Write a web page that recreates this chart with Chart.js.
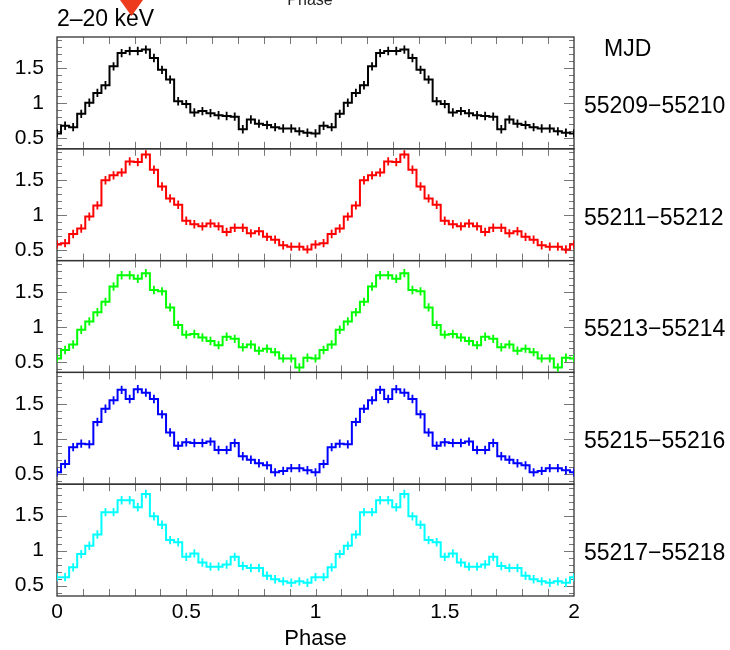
<!DOCTYPE html>
<html>
<head>
<meta charset="utf-8">
<style>
  html, body { margin: 0; padding: 0; background: #fff; }
  #wrap { width: 730px; height: 650px; }
</style>
<script src="https://cdn.jsdelivr.net/npm/chart.js@4.4.0/dist/chart.umd.min.js"></script>
</head>
<body>
<div id="wrap"><canvas id="profiles" width="730" height="650"></canvas></div>
<script>
// pulse profiles, 32 phase bins per cycle (bin centres at k/32), plotted twice
const energyBand = '2–20 keV';
const mjdRanges = ['55209−55210', '55211−55212', '55213−55214', '55215−55216', '55217−55218'];
const lineColors = ['#000000', '#ff0000', '#00ff00', '#0000ff', '#00ffff'];

const rate55209 = [0.57, 0.68, 0.66, 0.85, 1.01, 1.15, 1.26, 1.53, 1.72, 1.75, 1.75, 1.77, 1.65, 1.48, 1.34, 1.03,
                   0.99, 0.87, 0.89, 0.86, 0.83, 0.82, 0.81, 0.63, 0.77, 0.71, 0.69, 0.66, 0.64, 0.64, 0.60, 0.58];
const rate55211 = [0.58, 0.60, 0.73, 0.81, 0.98, 1.14, 1.50, 1.57, 1.61, 1.77, 1.76, 1.87, 1.65, 1.41, 1.24, 1.15,
                   0.92, 0.87, 0.84, 0.88, 0.84, 0.76, 0.82, 0.82, 0.74, 0.77, 0.69, 0.65, 0.57, 0.55, 0.55, 0.51];
const rate55213 = [0.55, 0.67, 0.75, 0.96, 1.08, 1.21, 1.36, 1.58, 1.74, 1.74, 1.69, 1.77, 1.53, 1.51, 1.28, 1.03,
                   0.89, 0.90, 0.85, 0.80, 0.74, 0.86, 0.83, 0.71, 0.75, 0.66, 0.69, 0.64, 0.55, 0.55, 0.42, 0.56];
const rate55215 = [0.52, 0.64, 0.88, 0.93, 0.92, 1.24, 1.43, 1.55, 1.70, 1.57, 1.71, 1.66, 1.57, 1.35, 1.09, 0.90,
                   0.95, 0.94, 0.94, 0.96, 0.84, 0.84, 0.94, 0.75, 0.70, 0.65, 0.62, 0.52, 0.54, 0.58, 0.58, 0.55];
const rate55217 = [0.62, 0.62, 0.76, 0.95, 1.07, 1.23, 1.55, 1.55, 1.72, 1.72, 1.62, 1.81, 1.49, 1.37, 1.15, 1.12,
                   0.91, 0.96, 0.83, 0.77, 0.77, 0.80, 0.91, 0.78, 0.75, 0.75, 0.64, 0.59, 0.56, 0.54, 0.56, 0.54];
const errBars = [0.06, 0.06, 0.06, 0.06, 0.06];

const phaseTicks = [0, 0.5, 1, 1.5, 2];
const rateTicks = [0.5, 1, 1.5];

const profiles = [rate55209, rate55211, rate55213, rate55215, rate55217];

Chart.defaults.font.family = "'Liberation Sans', Arial, Helvetica, sans-serif";
Chart.defaults.color = '#000';

// same cycle drawn again from phase 1 to 2
function twoCycles(rates) {
  const n = rates.length;
  const pts = [];
  for (let k = 0; k <= 2 * n; k++) {
    pts.push({ x: k / n, y: rates[k % n] });
  }
  return pts;
}

const datasets = profiles.map((rates, i) => ({
  label: mjdRanges[i],
  data: twoCycles(rates),
  yAxisID: 'y' + i,
  borderColor: lineColors[i],
  borderWidth: 2,
  stepped: 'middle',
  pointRadius: 0,
  fill: false
}));

const scales = {
  x: {
    type: 'linear', position: 'bottom', min: 0, max: 2,
    grid: { display: false, drawTicks: false },
    border: { display: false },
    afterBuildTicks: s => { s.ticks = phaseTicks.map(v => ({ value: v })); },
    ticks: { font: { size: 21 }, padding: 4, maxRotation: 0, callback: v => String(v) },
    title: { display: true, text: 'Phase', font: { size: 22, lineHeight: 1 }, padding: 0 },
    afterFit: s => { s.height = 54; }
  }
};
profiles.forEach((rates, i) => {
  scales['y' + i] = {
    type: 'linear', position: 'left', stack: 'mjd', stackWeight: 1, weight: 10 - i,
    min: 0.35, max: 1.95,
    grid: { display: false, drawTicks: false },
    border: { display: false },
    afterBuildTicks: s => { s.ticks = rateTicks.map(v => ({ value: v })); },
    ticks: { font: { size: 21 }, padding: 13, callback: v => String(v) },
    afterFit: s => { s.width = 57; }
  };
});

const framePlugin = {
  id: 'frame',
  beforeDatasetsDraw(chart) {
    const { ctx, chartArea: a } = chart;
    const xs = chart.scales.x;
    ctx.save();
    profiles.forEach((rates, i) => {
      const ys = chart.scales['y' + i];
      ctx.strokeStyle = '#777';
      ctx.lineWidth = 1;
      ctx.beginPath();
      for (let t = 1; t < 20; t++) {
        const px = Math.round(xs.getPixelForValue(t / 10)) + 0.5;
        ctx.moveTo(px, ys.top); ctx.lineTo(px, ys.top + 7);
        ctx.moveTo(px, ys.bottom); ctx.lineTo(px, ys.bottom - 7);
      }
      for (let t = 4; t <= 19; t++) {
        const py = Math.round(ys.getPixelForValue(t / 10)) + 0.5;
        const len = t % 5 === 0 ? 10 : 5;
        ctx.moveTo(a.left, py); ctx.lineTo(a.left + len, py);
        ctx.moveTo(a.right, py); ctx.lineTo(a.right - len, py);
      }
      ctx.stroke();
      ctx.strokeStyle = '#333';
      ctx.lineWidth = 1.3;
      ctx.strokeRect(a.left, ys.top, a.right - a.left, ys.bottom - ys.top);
    });
    ctx.restore();
  },
  afterDatasetsDraw(chart) {
    const { ctx, chartArea: a } = chart;
    const xs = chart.scales.x;
    ctx.save();
    ctx.beginPath();
    ctx.rect(a.left, a.top, a.right - a.left, a.bottom - a.top);
    ctx.clip();
    chart.data.datasets.forEach((ds, i) => {
      const ys = chart.scales[ds.yAxisID];
      ctx.strokeStyle = ds.borderColor;
      ctx.lineWidth = 1.8;
      ctx.beginPath();
      ds.data.forEach(pt => {
        const px = xs.getPixelForValue(pt.x);
        ctx.moveTo(px, ys.getPixelForValue(pt.y - errBars[i]));
        ctx.lineTo(px, ys.getPixelForValue(pt.y + errBars[i]));
      });
      ctx.stroke();
    });
    ctx.restore();
  },
  afterDraw(chart) {
    const { ctx, chartArea: a } = chart;
    ctx.save();
    ctx.fillStyle = '#000';
    ctx.font = "23px 'Liberation Sans', Arial, sans-serif";
    ctx.textAlign = 'left';
    ctx.textBaseline = 'middle';
    ctx.fillText(energyBand, a.left, a.top - 17);
    ctx.fillText('MJD', a.right + 30, chart.scales.y0.top + 13);
    mjdRanges.forEach((txt, i) => {
      const ys = chart.scales['y' + i];
      ctx.fillText(txt, a.right + 10, ys.getPixelForValue(1) + 3);
    });
    // bits of the neighbouring figure cut off at the top edge
    ctx.font = "16px 'Liberation Sans', Arial, sans-serif";
    ctx.textAlign = 'center';
    ctx.textBaseline = 'alphabetic';
    ctx.fillStyle = '#222';
    ctx.fillText('Phase', 310, 5);
    ctx.fillStyle = '#ee3a1c';
    ctx.beginPath();
    ctx.moveTo(120, 0); ctx.lineTo(143, 0); ctx.lineTo(131.5, 16);
    ctx.closePath();
    ctx.fill();
    ctx.restore();
  }
};

new Chart(document.getElementById('profiles'), {
  type: 'line',
  data: { datasets },
  options: {
    responsive: false,
    animation: false,
    devicePixelRatio: 1,
    layout: { padding: { left: 0, top: 37, right: 156, bottom: 0 } },
    plugins: { legend: { display: false }, tooltip: { enabled: false } },
    scales
  },
  plugins: [framePlugin]
});
</script>
</body>
</html>
